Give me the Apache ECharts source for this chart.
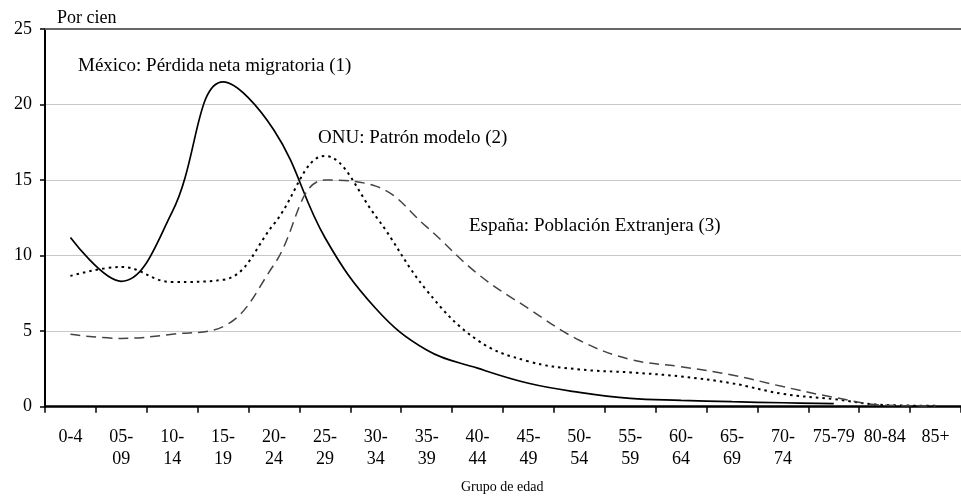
<!DOCTYPE html>
<html>
<head>
<meta charset="utf-8">
<script src="https://cdn.jsdelivr.net/npm/echarts@6/dist/echarts.min.js"></script>
<style>
html,body{margin:0;padding:0;background:#fff;}
#c{width:961px;height:498px;}
</style>
</head>
<body>
<div id="c"></div>
<script>
const categories = ['0-4','05-\n09','10-\n14','15-\n19','20-\n24','25-\n29','30-\n34','35-\n39','40-\n44','45-\n49','50-\n54','55-\n59','60-\n64','65-\n69','70-\n74','75-79','80-84','85+'];
const mexico = [11.2, 8.3, 12.9, 21.5, 18.3, 11.2, 6.5, 3.75, 2.55, 1.55, 0.95, 0.55, 0.42, 0.33, 0.26, 0.2, null, null];
const onu = [8.65, 9.25, 8.25, 8.4, 12.1, 16.6, 12.6, 7.7, 4.4, 3.0, 2.47, 2.27, 2.0, 1.55, 0.85, 0.5, 0.11, 0.06];
const espana = [4.79, 4.52, 4.8, 5.3, 9.4, 15.0, 14.6, 11.9, 8.8, 6.5, 4.4, 3.13, 2.65, 2.1, 1.33, 0.62, 0.1, 0.05];
const yTicks = {min: 0, max: 25, interval: 5};
const labels = {
  mexico: 'México: Pérdida neta migratoria (1)',
  onu: 'ONU: Patrón modelo (2)',
  espana: 'España: Población Extranjera (3)',
  yName: 'Por cien',
  xName: 'Grupo de edad'
};

const font = 'Liberation Serif, Times New Roman, serif';
const chart = echarts.init(document.getElementById('c'));
chart.setOption({
  animation: false,
  backgroundColor: '#fff',
  grid: {left: 45, top: 29, width: 925, height: 377.7, containLabel: false},
  xAxis: [{
    type: 'category',
    data: categories,
    boundaryGap: true,
    axisLine: {lineStyle: {color: '#000', width: 2.5}},
    axisTick: {show: true, length: 6, lineStyle: {color: '#000', width: 1.5}},
    axisLabel: {color: '#000', fontFamily: font, fontSize: 18, lineHeight: 22, margin: 20, interval: 0},
    splitLine: {show: false}
  }, {
    type: 'category',
    position: 'top',
    data: categories,
    axisLine: {show: true, onZero: false, lineStyle: {color: '#666', width: 2}},
    axisTick: {show: false},
    axisLabel: {show: false},
    splitLine: {show: false}
  }],
  yAxis: {
    type: 'value',
    min: yTicks.min, max: yTicks.max, interval: yTicks.interval,
    axisLine: {show: true, lineStyle: {color: '#000', width: 2}},
    axisTick: {show: true, length: 5, lineStyle: {color: '#000', width: 1.5}},
    axisLabel: {color: '#000', fontFamily: font, fontSize: 18, margin: 13},
    splitLine: {show: true, lineStyle: {color: '#c8c8c8', width: 1}}
  },
  graphic: [
    {type: 'text', left: 57, top: 9, style: {text: labels.yName, font: '18px ' + font, fill: '#000'}},
    {type: 'text', left: 78, top: 57, style: {text: labels.mexico, font: '19px ' + font, fill: '#000'}},
    {type: 'text', left: 318, top: 129, style: {text: labels.onu, font: '19px ' + font, fill: '#000'}},
    {type: 'text', left: 469, top: 217, style: {text: labels.espana, font: '19px ' + font, fill: '#000'}},
    {type: 'text', left: 461, top: 480, style: {text: labels.xName, font: '14px ' + font, fill: '#000'}}
  ],
  series: [
    {name: 'mexico', type: 'line', data: mexico, smooth: 0.4, symbol: 'none',
     lineStyle: {color: '#000', width: 1.7, type: 'solid'}},
    {name: 'onu', type: 'line', data: onu, smooth: 0.4, symbol: 'none',
     lineStyle: {color: '#000', width: 2, type: [2.5, 4]}},
    {name: 'espana', type: 'line', data: espana, smooth: 0.4, symbol: 'none',
     lineStyle: {color: '#444', width: 1.5, type: [10, 6]}}
  ]
});
</script>
</body>
</html>
